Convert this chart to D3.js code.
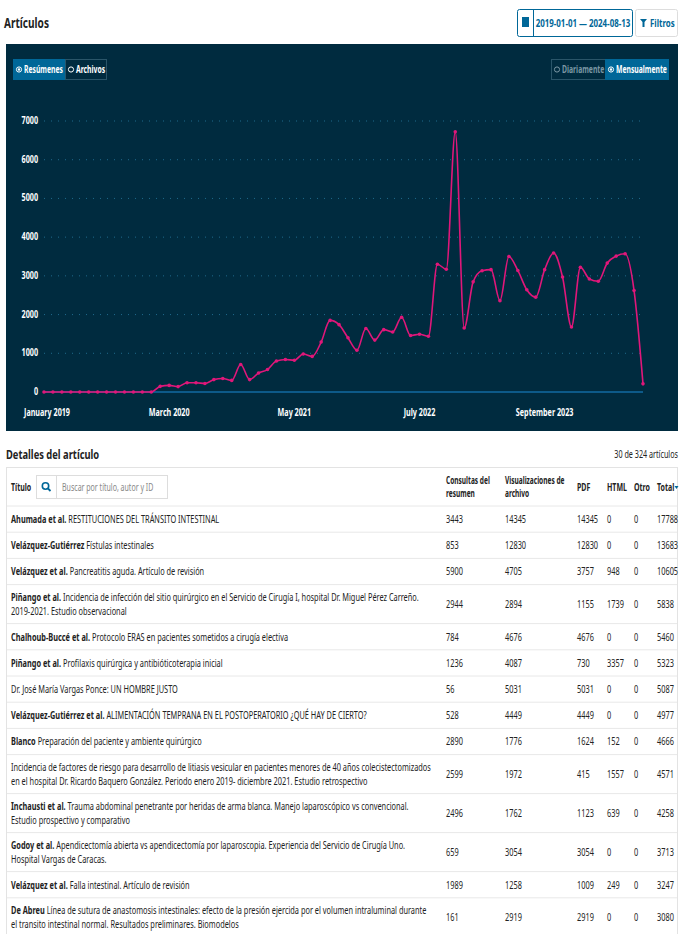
<!DOCTYPE html>
<html><head><meta charset="utf-8">
<script src="https://cdn.jsdelivr.net/npm/d3@7"></script>
<style>
body{margin:0;background:#fff;}
svg text{font-family:"Noto Sans",sans-serif;}
</style></head><body>
<svg id="c" width="684" height="934"></svg>
<script>
const values=[0,0,0,0,0,0,0,0,0,0,0,0,0,146,170,140,240,240,220,320,350,300,710,320,490,580,800,840,820,980,920,1290,1850,1740,1400,1080,1640,1340,1610,1550,1930,1460,1490,1440,3300,3170,6720,1655,2845,3130,3160,2360,3500,3140,2640,2450,3160,3590,2970,1680,3220,2920,2860,3330,3510,3570,2620,210];
const yTicks=[0,1000,2000,3000,4000,5000,6000,7000];
const xLabels=["January 2019","March 2020","May 2021","July 2022","September 2023"];
const authors=["Ahumada et al.","Velázquez-Gutiérrez","Velázquez et al.","Piñango et al.","Chalhoub-Buccé et al.","Piñango et al.","","Velázquez-Gutiérrez et al.","Blanco","","Inchausti et al.","Godoy et al.","Velázquez et al.","De Abreu"];
const titles1=["RESTITUCIONES DEL TRÁNSITO INTESTINAL","Fístulas intestinales","Pancreatitis aguda. Artículo de revisión","Incidencia de infección del sitio quirúrgico en el Servicio de Cirugía I, hospital Dr. Miguel Pérez Carreño.","Protocolo ERAS en pacientes sometidos a cirugía electiva","Profilaxis quirúrgica y antibióticoterapia inicial","Dr. José María Vargas Ponce: UN HOMBRE JUSTO","ALIMENTACIÓN TEMPRANA EN EL POSTOPERATORIO ¿QUÉ HAY DE CIERTO?","Preparación del paciente y ambiente quirúrgico","Incidencia de factores de riesgo para desarrollo de litiasis vesicular en pacientes menores de 40 años colecistectomizados","Trauma abdominal penetrante por heridas de arma blanca. Manejo laparoscópico vs convencional.","Apendicectomía abierta vs apendicectomía por laparoscopia. Experiencia del Servicio de Cirugía Uno.","Falla intestinal. Artículo de revisión","Línea de sutura de anastomosis intestinales: efecto de la presión ejercida por el volumen intraluminal durante"];
const titles2=["","","","2019-2021. Estudio observacional","","","","","","en el hospital Dr. Ricardo Baquero González. Periodo enero 2019- diciembre 2021. Estudio retrospectivo","Estudio prospectivo y comparativo","Hospital Vargas de Caracas.","","el transito intestinal normal. Resultados preliminares. Biomodelos"];
const consultas=[3443,853,5900,2944,784,1236,56,528,2890,2599,2496,659,1989,161];
const visual=[14345,12830,4705,2894,4676,4087,5031,4449,1776,1972,1762,3054,1258,2919];
const pdf=[14345,12830,3757,1155,4676,730,5031,4449,1624,415,1123,3054,1009,2919];
const html=[0,0,948,1739,0,3357,0,0,152,1557,639,0,249,0];
const otro=[0,0,0,0,0,0,0,0,0,0,0,0,0,0];
const total=[17788,13683,10605,5838,5460,5323,5087,4977,4666,4571,4258,3713,3247,3080];

const svg=d3.select("#c");
const dark="#002b3f", blue="#006798", txt="#222";
svg.append("text").attr("x",4).attr("y",28).attr("font-size",14).attr("font-weight","bold").attr("fill",txt).text("Artículos");
svg.append("rect").attr("x",517.5).attr("y",9.5).attr("width",115).attr("height",27).attr("rx",2).attr("fill","#fff").attr("stroke",blue);
svg.append("line").attr("x1",533.5).attr("x2",533.5).attr("y1",10).attr("y2",36).attr("stroke",blue);
svg.append("rect").attr("x",522).attr("y",17).attr("width",7).attr("height",10).attr("fill",blue);
svg.append("text").attr("x",583).attr("y",27).attr("text-anchor","middle").attr("font-size",11).attr("font-weight","bold").attr("fill",blue).text("2019-01-01 — 2024-08-13");
svg.append("rect").attr("x",635.5).attr("y",9.5).attr("width",42).attr("height",27).attr("rx",2).attr("fill","#fff").attr("stroke","#ddd");
svg.append("path").attr("d","M640,19 h7 l-2.5,3 v5 h-2 v-5 z").attr("fill",blue);
svg.append("text").attr("x",650).attr("y",27).attr("font-size",11).attr("font-weight","bold").attr("fill",blue).text("Filtros");
svg.append("rect").attr("x",6).attr("y",44).attr("width",672).attr("height",387).attr("fill",dark);
function btns(x,items,active){let cx=x;
 items.forEach((t,i)=>{const w=t.w;svg.append("rect").attr("x",cx+0.5).attr("y",59.5).attr("width",w).attr("height",20).attr("fill",i===active?blue:dark).attr("stroke",i===active?blue:"#2a5569");cx+=w;});
 cx=x;
 items.forEach((t,i)=>{const w=t.w;const col=t.dim?"#7b97a4":"#fff";
 svg.append("circle").attr("cx",cx+6).attr("cy",69.5).attr("r",2.6).attr("fill","none").attr("stroke",col).attr("stroke-width",1);
 if(i===active) svg.append("circle").attr("cx",cx+6).attr("cy",69.5).attr("r",1.2).attr("fill",col);
 svg.append("text").attr("class","btn").attr("x",cx+11).attr("y",73).attr("font-size",10).attr("font-weight","bold").attr("fill",col).text(t.t);cx+=w;});}
btns(13,[{t:"Resúmenes",w:52},{t:"Archivos",w:41}],0);
btns(551,[{t:"Diariamente",w:54,dim:true},{t:"Mensualmente",w:63}],1);
const x=d3.scaleLinear().domain([0,values.length-1]).range([44,643]);
const y=d3.scaleLinear().domain([0,7000]).range([392,121]);
yTicks.forEach(t=>{ if(t>0) svg.append("line").attr("x1",44).attr("x2",643).attr("y1",y(t)).attr("y2",y(t)).attr("stroke","#1f6a8c").attr("stroke-dasharray","1,6");
 svg.append("text").attr("x",38).attr("y",y(t)+3).attr("text-anchor","end").attr("font-size",10).attr("fill","#fff").attr("font-weight","bold").text(t);});
svg.append("line").attr("x1",44).attr("x2",643).attr("y1",y(0)).attr("y2",y(0)).attr("stroke","#1a8ad4").attr("stroke-width",1.2);
xLabels.forEach((l,i)=>svg.append("text").attr("x",i===0?24:x(i*14)).attr("y",416).attr("text-anchor",i===0?"start":"middle").attr("font-size",10).attr("font-weight","bold").attr("fill","#fff").text(l));
svg.append("path").datum(values).attr("fill","none").attr("stroke","#e0177a").attr("stroke-width",1.6)
 .attr("d",d3.line().x((d,i)=>x(i)).y(d=>y(d)).curve(d3.curveMonotoneX));
svg.selectAll("circle.p").data(values).join("circle").attr("cx",(d,i)=>x(i)).attr("cy",d=>y(d)).attr("r",1.8).attr("fill","#e0177a");
svg.append("text").attr("x",6).attr("y",459).attr("font-size",13).attr("font-weight","bold").attr("fill",txt).text("Detalles del artículo");
svg.append("text").attr("x",678).attr("y",458).attr("text-anchor","end").attr("font-size",10).attr("fill",txt).text("30 de 324 artículos");
const cols=[446,505,577,607,634,657];
const tb=svg.append("g").attr("font-size",11).attr("fill",txt).attr("class","tb");
tb.append("rect").attr("x",6.5).attr("y",467.5).attr("width",671).attr("height",470).attr("fill","none").attr("stroke","#e3e3e3");
tb.append("text").attr("x",11).attr("y",491).attr("font-weight","bold").attr("font-size",10.5).text("Título");
tb.append("rect").attr("x",36.5).attr("y",475.5).attr("width",131).attr("height",23).attr("fill","#fff").attr("stroke","#ddd");
tb.append("line").attr("x1",56.5).attr("x2",56.5).attr("y1",476).attr("y2",498).attr("stroke","#ddd");
tb.append("circle").attr("cx",45.5).attr("cy",486).attr("r",3.2).attr("fill","none").attr("stroke",blue).attr("stroke-width",1.6);
tb.append("line").attr("x1",48).attr("y1",488.5).attr("x2",50.5).attr("y2",491).attr("stroke",blue).attr("stroke-width",1.8);
tb.append("text").attr("x",62).attr("y",491).attr("fill","#888").attr("font-size",10.5).text("Buscar por título, autor y ID");
[["Consultas del","resumen"],["Visualizaciones de","archivo"],["PDF"],["HTML"],["Otro"],["Total"]].forEach((h,i)=>{
 h.forEach((l,j)=>tb.append("text").attr("x",cols[i]).attr("y",h.length>1?484+j*13:491).attr("font-weight","bold").attr("font-size",h.length>1?9.8:10.5).text(l));});
tb.append("path").attr("d","M674.5,486 l4,0 l-2,3 z").attr("fill",blue);
let yy=506;
authors.forEach((a,i)=>{
 const two=titles2[i]!=="";const h=two?39:26.2;
 tb.append("line").attr("x1",7).attr("x2",677).attr("y1",yy).attr("y2",yy).attr("stroke","#e8e8e8");
 const cy=yy+h/2;
 const t=tb.append("text").attr("x",11).attr("y",two?cy-3:cy+4);
 if(a) t.append("tspan").attr("font-weight","bold").text(a+" ");
 t.append("tspan").text(titles1[i]);
 if(two) tb.append("text").attr("x",11).attr("y",cy+11).text(titles2[i]);
 [consultas,visual,pdf,html,otro,total].forEach((arr,k)=>tb.append("text").attr("x",cols[k]).attr("y",cy+4).text(arr[i]));
 yy+=h;
});
svg.selectAll("text").each(function(){const xx=+this.getAttribute("x");
 const S=this.closest(".tb")?0.67:(this.classList.contains("btn")?0.68:0.72);
 this.setAttribute("transform",`translate(${xx},0) scale(${S},1) translate(${-xx},0)`);});
</script></body></html>
